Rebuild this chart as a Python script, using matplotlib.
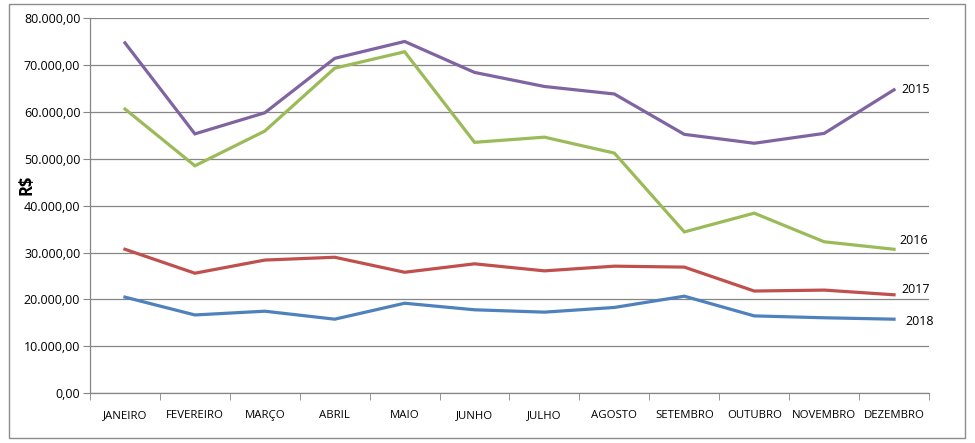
import matplotlib
matplotlib.use("Agg")
import matplotlib.pyplot as plt
from matplotlib.ticker import FuncFormatter, MultipleLocator, FixedLocator
from matplotlib.patches import Rectangle

months = ["JANEIRO", "FEVEREIRO", "MARÇO", "ABRIL", "MAIO", "JUNHO", "JULHO",
          "AGOSTO", "SETEMBRO", "OUTUBRO", "NOVEMBRO", "DEZEMBRO"]
v2015 = [74700, 55300, 59800, 71400, 75000, 68400, 65400, 63800, 55200, 53300, 55400, 64700]
v2016 = [60600, 48500, 55900, 69300, 72800, 53500, 54600, 51200, 34400, 38400, 32300, 30700]
v2017 = [30700, 25600, 28400, 29000, 25800, 27600, 26100, 27100, 26900, 21800, 22000, 21000]
v2018 = [20500, 16700, 17500, 15800, 19200, 17800, 17300, 18300, 20700, 16500, 16100, 15800]
series_names = ["2015", "2016", "2017", "2018"]
colors = ["#8064A2", "#9BBB59", "#C0504D", "#4F81BD"]
label_offsets = [(5, 0), (4, 6), (5, 4), (8, -1.5)]

plt.rcParams['font.family'] = ['Open Sans', 'DejaVu Sans']

fig = plt.figure(figsize=(9.75, 4.43), dpi=100)
ax = fig.add_axes([90/975, 1-393.3/443, (929-90)/975, (393.3-18)/443])

fig.patches.append(Rectangle((9/975, 1-438/443), (965-9)/975, (438-4)/443,
                             transform=fig.transFigure, fill=False,
                             edgecolor="#8c8c8c", linewidth=1.0))

x = list(range(len(months)))
for vals, name, c, off in zip([v2015, v2016, v2017, v2018], series_names, colors, label_offsets):
    ax.plot(x, vals, color=c, linewidth=2.3, solid_joinstyle='miter', zorder=3)
    ax.annotate(name, xy=(x[-1], vals[-1]), xytext=off,
                textcoords="offset points", va="center", ha="left",
                fontsize=9, color="black")

ax.set_xlim(-0.5, len(months) - 0.5)
ax.set_ylim(0, 80000)
ax.yaxis.set_major_locator(MultipleLocator(10000))

def br(v, pos):
    s = f"{v:,.2f}"
    return s.replace(",", "X").replace(".", ",").replace("X", ".")
ax.yaxis.set_major_formatter(FuncFormatter(br))

ax.set_xticks(x)
ax.set_xticklabels(months)
ax.xaxis.set_minor_locator(FixedLocator([i - 0.5 for i in range(len(months) + 1)]))
ax.tick_params(axis='x', which='major', length=0, pad=12, labelsize=8.2)
ax.tick_params(axis='x', which='minor', length=5, color="#868686")
ax.tick_params(axis='y', which='major', length=5, color="#868686", labelsize=9, pad=2)

ax.grid(axis='y', color="#868686", linewidth=0.9)
ax.set_axisbelow(True)
for s in ["top", "right"]:
    ax.spines[s].set_visible(False)
for s in ["left", "bottom"]:
    ax.spines[s].set_color("#868686")
    ax.spines[s].set_linewidth(0.9)

fig.text(27/975, 1-185/443, "R$", rotation=90, fontsize=12, fontweight="bold",
         ha="center", va="center")

fig.savefig("out.png", dpi=100)
